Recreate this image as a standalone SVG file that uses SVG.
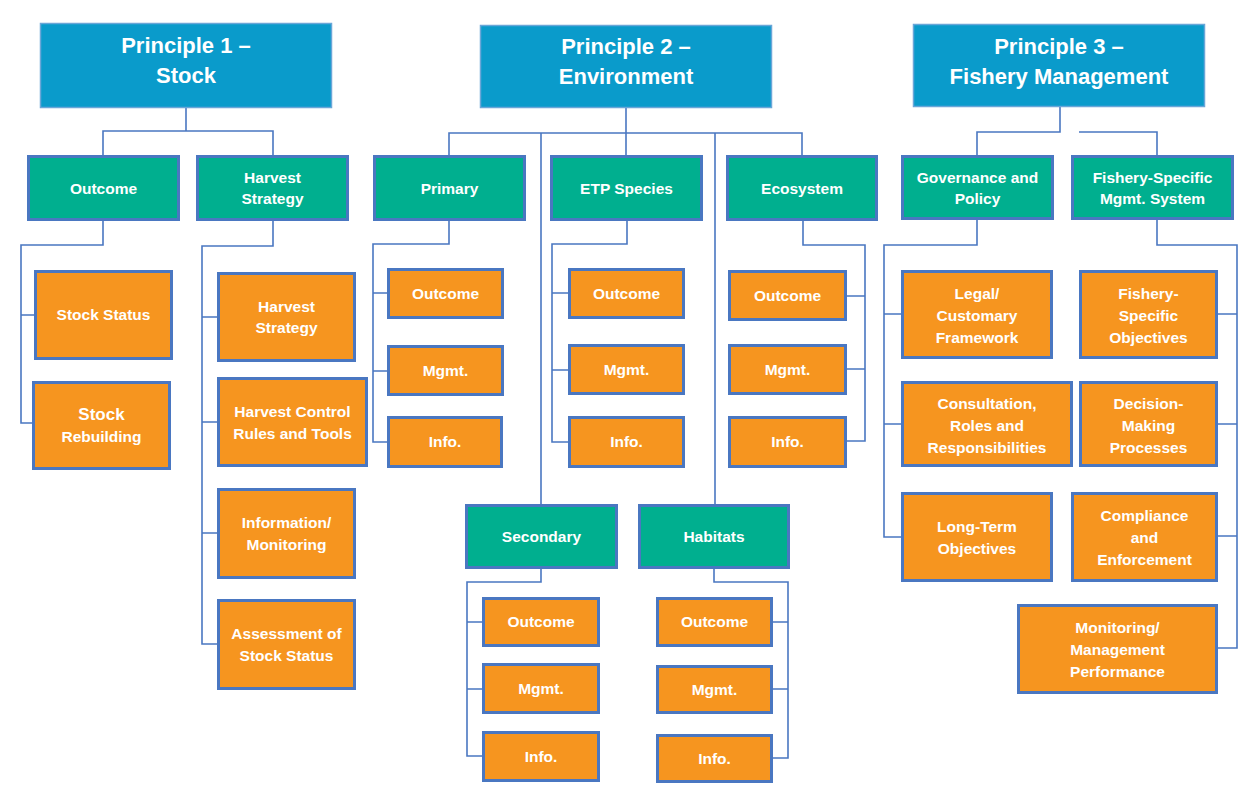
<svg xmlns="http://www.w3.org/2000/svg" width="1248" height="786" viewBox="0 0 1248 786">
<style>
.h{fill:#0A9BCB;stroke:#6AA6D8;stroke-width:1.5}
.g{fill:#00AF8F;stroke:#4A77C1;stroke-width:3}
.o{fill:#F6951F;stroke:#4A77C1;stroke-width:3}
.c{fill:none;stroke:#4A77C1;stroke-width:1.6}
text{font-family:"Liberation Sans",Arial,sans-serif;font-weight:bold;fill:#fff;text-anchor:middle}
.ht{font-size:22px}
.gt{font-size:15.5px}
.ot{font-size:15.5px}
</style>
<rect width="1248" height="786" fill="#fff"/>
<g id="connectors" class="c">
<path d="M186 108V131H103V155M186 131H273V155"/>
<path d="M103 221V245H21V423H32M21 315H34"/>
<path d="M273 221V246H202V644H217M202 317H217M202 422H217M202 533H217"/>
<path d="M626 108V133M449 155V133H802V155M541 133V504M626 133V155M715 133V504"/>
<path d="M449 221V244H373V442H387M373 293H387M373 371H387"/>
<path d="M627 221V244H552V442H568M552 293H568M552 370H568"/>
<path d="M803 221V245H865V441H847M865 296H847M865 369H847"/>
<path d="M541 569V582H467V756H482M467 622H482M467 689H482"/>
<path d="M714 569V582H788V758H773M788 622H773M788 689H773"/>
<path d="M1060 107V132H977V155M1079 132H1157V155"/>
<path d="M977 220V245H884V537H901M884 314H901M884 424H901"/>
<path d="M1157 220V245H1237V648H1218M1237 314H1218M1237 424H1218M1237 536H1218"/>
</g>
<g id="p1"><rect class="h" x="40.5" y="23.5" width="291" height="84"/><text class="ht" x="186" y="53">Principle 1 –</text><text class="ht" x="186" y="83">Stock</text></g>
<g id="p2"><rect class="h" x="480.5" y="25.5" width="291" height="82"/><text class="ht" x="626" y="54">Principle 2 –</text><text class="ht" x="626" y="84">Environment</text></g>
<g id="p3"><rect class="h" x="913.5" y="24.5" width="291" height="82"/><text class="ht" x="1059" y="54">Principle 3 –</text><text class="ht" x="1059" y="84">Fishery Management</text></g>

<g id="outcome"><rect class="g" x="28.5" y="156.5" width="150" height="63"/><text class="gt" x="103.5" y="194">Outcome</text></g>
<g id="harvest-strategy"><rect class="g" x="197.5" y="156.5" width="150" height="63"/><text class="gt" x="272.5" y="183">Harvest</text><text class="gt" x="272.5" y="204">Strategy</text></g>
<g id="primary"><rect class="g" x="374.5" y="156.5" width="150" height="63"/><text class="gt" x="449.5" y="194">Primary</text></g>
<g id="etp"><rect class="g" x="551.5" y="156.5" width="150" height="63"/><text class="gt" x="626.5" y="194">ETP Species</text></g>
<g id="ecosystem"><rect class="g" x="727.5" y="156.5" width="149" height="63"/><text class="gt" x="802" y="194">Ecosystem</text></g>
<g id="governance"><rect class="g" x="902.5" y="156.5" width="150" height="62"/><text class="gt" x="977.5" y="183">Governance and</text><text class="gt" x="977.5" y="204">Policy</text></g>
<g id="fishery-specific"><rect class="g" x="1072.5" y="156.5" width="160" height="62"/><text class="gt" x="1152.5" y="183">Fishery-Specific</text><text class="gt" x="1152.5" y="204">Mgmt. System</text></g>
<g id="secondary"><rect class="g" x="466.5" y="505.5" width="150" height="62"/><text class="gt" x="541.5" y="542">Secondary</text></g>
<g id="habitats"><rect class="g" x="639.5" y="505.5" width="149" height="62"/><text class="gt" x="714" y="542">Habitats</text></g>

<g id="stock-status"><rect class="o" x="35.5" y="271.5" width="136" height="87"/><text class="ot" x="103.5" y="320">Stock Status</text></g>
<g id="stock-rebuilding"><rect class="o" x="33.5" y="382.5" width="136" height="86"/><text class="ot" x="101.5" y="420" style="font-size:17px">Stock</text><text class="ot" x="101.5" y="442">Rebuilding</text></g>
<g id="hs-harvest-strategy"><rect class="o" x="218.5" y="273.5" width="136" height="87"/><text class="ot" x="286.5" y="312">Harvest</text><text class="ot" x="286.5" y="333">Strategy</text></g>
<g id="hcr"><rect class="o" x="218.5" y="378.5" width="148" height="87"/><text class="ot" x="292.5" y="417">Harvest Control</text><text class="ot" x="292.5" y="439">Rules and Tools</text></g>
<g id="info-monitoring"><rect class="o" x="218.5" y="489.5" width="136" height="88"/><text class="ot" x="286.5" y="528">Information/</text><text class="ot" x="286.5" y="550">Monitoring</text></g>
<g id="assessment"><rect class="o" x="218.5" y="600.5" width="136" height="88"/><text class="ot" x="286.5" y="639">Assessment of</text><text class="ot" x="286.5" y="661">Stock Status</text></g>

<g id="pr-outcome"><rect class="o" x="388.5" y="269.5" width="114" height="48"/><text class="ot" x="445.5" y="299">Outcome</text></g>
<g id="pr-mgmt"><rect class="o" x="388.5" y="346.5" width="114" height="48"/><text class="ot" x="445.5" y="376">Mgmt.</text></g>
<g id="pr-info"><rect class="o" x="388.5" y="417.5" width="113" height="49"/><text class="ot" x="445" y="447">Info.</text></g>
<g id="etp-outcome"><rect class="o" x="569.5" y="269.5" width="114" height="48"/><text class="ot" x="626.5" y="299">Outcome</text></g>
<g id="etp-mgmt"><rect class="o" x="569.5" y="345.5" width="114" height="48"/><text class="ot" x="626.5" y="375">Mgmt.</text></g>
<g id="etp-info"><rect class="o" x="569.5" y="417.5" width="114" height="49"/><text class="ot" x="626.5" y="447">Info.</text></g>
<g id="eco-outcome"><rect class="o" x="729.5" y="271.5" width="116" height="48"/><text class="ot" x="787.5" y="301">Outcome</text></g>
<g id="eco-mgmt"><rect class="o" x="729.5" y="345.5" width="116" height="48"/><text class="ot" x="787.5" y="375">Mgmt.</text></g>
<g id="eco-info"><rect class="o" x="729.5" y="417.5" width="116" height="49"/><text class="ot" x="787.5" y="447">Info.</text></g>
<g id="sec-outcome"><rect class="o" x="483.5" y="598.5" width="115" height="47"/><text class="ot" x="541" y="627">Outcome</text></g>
<g id="sec-mgmt"><rect class="o" x="483.5" y="664.5" width="115" height="48"/><text class="ot" x="541" y="694">Mgmt.</text></g>
<g id="sec-info"><rect class="o" x="483.5" y="732.5" width="115" height="48"/><text class="ot" x="541" y="762">Info.</text></g>
<g id="hab-outcome"><rect class="o" x="657.5" y="598.5" width="114" height="47"/><text class="ot" x="714.5" y="627">Outcome</text></g>
<g id="hab-mgmt"><rect class="o" x="657.5" y="666.5" width="114" height="46"/><text class="ot" x="714.5" y="695">Mgmt.</text></g>
<g id="hab-info"><rect class="o" x="657.5" y="735.5" width="114" height="46"/><text class="ot" x="714.5" y="764">Info.</text></g>

<g id="legal"><rect class="o" x="902.5" y="271.5" width="149" height="86"/><text class="ot" x="977" y="299">Legal/</text><text class="ot" x="977" y="321">Customary</text><text class="ot" x="977" y="343">Framework</text></g>
<g id="consultation"><rect class="o" x="902.5" y="382.5" width="169" height="83"/><text class="ot" x="987" y="409">Consultation,</text><text class="ot" x="987" y="431">Roles and</text><text class="ot" x="987" y="453">Responsibilities</text></g>
<g id="long-term"><rect class="o" x="902.5" y="493.5" width="149" height="87"/><text class="ot" x="977" y="532">Long-Term</text><text class="ot" x="977" y="554">Objectives</text></g>
<g id="fs-objectives"><rect class="o" x="1080.5" y="271.5" width="136" height="86"/><text class="ot" x="1148.5" y="299">Fishery-</text><text class="ot" x="1148.5" y="321">Specific</text><text class="ot" x="1148.5" y="343">Objectives</text></g>
<g id="decision"><rect class="o" x="1080.5" y="382.5" width="136" height="83"/><text class="ot" x="1148.5" y="409">Decision-</text><text class="ot" x="1148.5" y="431">Making</text><text class="ot" x="1148.5" y="453">Processes</text></g>
<g id="compliance"><rect class="o" x="1072.5" y="493.5" width="144" height="87"/><text class="ot" x="1144.5" y="521">Compliance</text><text class="ot" x="1144.5" y="543">and</text><text class="ot" x="1144.5" y="565">Enforcement</text></g>
<g id="monitoring"><rect class="o" x="1018.5" y="605.5" width="198" height="87"/><text class="ot" x="1117.5" y="633">Monitoring/</text><text class="ot" x="1117.5" y="655">Management</text><text class="ot" x="1117.5" y="677">Performance</text></g>
</svg>
